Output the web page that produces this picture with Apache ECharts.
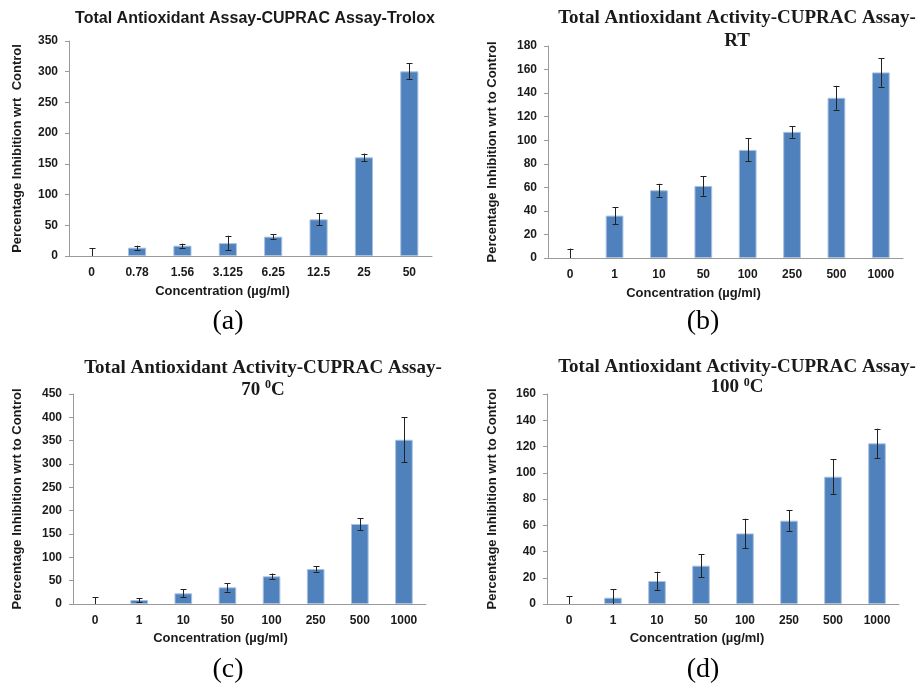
<!DOCTYPE html>
<html>
<head>
<meta charset="utf-8">
<script src="https://cdn.jsdelivr.net/npm/echarts@6/dist/echarts.min.js"></script>
<style>
html,body{margin:0;padding:0;background:#fff;}
#chart{width:921px;height:685px;}
</style>
</head>
<body>
<div id="chart"></div>
<script>
// ---- data ----
const catsA = ['0', '0.78', '1.56', '3.125', '6.25', '12.5', '25', '50'];
const valsA = [0, 13.6, 16.8, 21, 31.5, 59.7, 160.6, 300.6];
const errsA = [13, 3.3, 3.3, 12, 3.8, 10, 6.2, 13];

const catsB = ['0', '1', '10', '50', '100', '250', '500', '1000'];
const valsB = [0, 36, 57.5, 61.2, 91.8, 107.1, 136, 157.6];
const errsB = [8, 7.2, 5.5, 8.4, 9.7, 5, 10.2, 12.2];

const catsC = ['0', '1', '10', '50', '100', '250', '500', '1000'];
const valsC = [0, 8.6, 22.9, 35.7, 59.3, 75, 171.4, 352];
const errsC = [15, 4.3, 8.9, 9, 6, 5.7, 12.9, 48];

const catsD = ['0', '1', '10', '50', '100', '250', '500', '1000'];
const valsD = [0, 4.8, 17.5, 29.2, 53.8, 63.5, 97, 122.4];
const errsD = [6.1, 6.6, 7.1, 8.9, 11.2, 8, 13.3, 11.2];

const yAxisA = { min: 0, max: 350, interval: 50 };
const yAxisB = { min: 0, max: 180, interval: 20 };
const yAxisC = { min: 0, max: 450, interval: 50 };
const yAxisD = { min: 0, max: 160, interval: 20 };

const yNameA = 'Percentage Inhibition wrt  Control';
const yNameBCD = 'Percentage Inhibition wrt to Control';
const xName = 'Concentration (\u00b5g/ml)';

// ---- layout / style ----
const SANS = '"Liberation Sans", Arial, sans-serif';
const SERIF = '"Liberation Serif", "Times New Roman", serif';
const TXT = '#1a1a1a';

const panels = [
  { cats: catsA, vals: valsA, errs: errsA, y: yAxisA, yName: yNameA,
    grid: { left: 69, top: 41, width: 363, height: 215 }, yGap: 45, xGap: 29, xShift: 56 },
  { cats: catsB, vals: valsB, errs: errsB, y: yAxisB, yName: yNameBCD,
    grid: { left: 548, top: 46, width: 355, height: 212 }, yGap: 49, xGap: 29, xShift: 64 },
  { cats: catsC, vals: valsC, errs: errsC, y: yAxisC, yName: yNameBCD,
    grid: { left: 73, top: 394, width: 353, height: 210 }, yGap: 49, xGap: 28, xShift: 58 },
  { cats: catsD, vals: valsD, errs: errsD, y: yAxisD, yName: yNameBCD,
    grid: { left: 547, top: 394, width: 352, height: 210 }, yGap: 48, xGap: 28, xShift: 52 }
];

const grids = [], xAxes = [], yAxes = [], series = [];
panels.forEach((p, i) => {
  grids.push(Object.assign({ containLabel: false }, p.grid));
  xAxes.push({
    type: 'category', gridIndex: i, data: p.cats,
    name: xName, nameLocation: 'middle', nameGap: p.xGap,
    nameTextStyle: { fontFamily: SANS, fontWeight: 'bold', fontSize: 13, color: TXT, padding: [0, p.xShift, 0, 0] },
    axisLine: { lineStyle: { color: '#9a9a9a', width: 1 } },
    axisTick: { show: false },
    axisLabel: { fontFamily: SANS, fontWeight: 'bold', fontSize: 12, color: TXT, margin: 11 },
    splitLine: { show: false }
  });
  yAxes.push({
    type: 'value', gridIndex: i, min: p.y.min, max: p.y.max, interval: p.y.interval,
    name: p.yName, nameLocation: 'middle', nameGap: p.yGap,
    nameTextStyle: { fontFamily: SANS, fontWeight: 'bold', fontSize: 13, color: TXT },
    axisLine: { show: true, lineStyle: { color: '#9a9a9a', width: 1 } },
    axisTick: { show: true, length: 4, lineStyle: { color: '#9a9a9a' } },
    axisLabel: { fontFamily: SANS, fontWeight: 'bold', fontSize: 12, color: TXT, margin: 11 },
    splitLine: { show: false }
  });
  series.push({
    type: 'bar', xAxisIndex: i, yAxisIndex: i,
    data: p.vals.map(v => v === 0 ? { value: v, itemStyle: { borderWidth: 0, opacity: 0 } } : v),
    barWidth: '40%',
    itemStyle: { color: '#4f81bd', borderColor: '#a9c1e0', borderWidth: 1 },
    silent: true
  });
  series.push({
    type: 'custom', xAxisIndex: i, yAxisIndex: i,
    data: p.vals.map((v, k) => [k, v, p.errs[k]]),
    z: 5, silent: true,
    renderItem: function (params, api) {
      const k = api.value(0), v = api.value(1), e = api.value(2);
      const top = api.coord([k, v + e]);
      const bot = api.coord([k, Math.max(0, v - e)]);
      const x = Math.round(top[0]) + 0.5;
      const hw = 3;
      const st = { stroke: '#222', lineWidth: 1 };
      const children = [
        { type: 'line', shape: { x1: x, y1: top[1], x2: x, y2: bot[1] }, style: st },
        { type: 'line', shape: { x1: x - hw, y1: Math.round(top[1]) + 0.5, x2: x + hw, y2: Math.round(top[1]) + 0.5 }, style: st }
      ];
      if (v - e > 0) {
        children.push({ type: 'line', shape: { x1: x - hw, y1: Math.round(bot[1]) + 0.5, x2: x + hw, y2: Math.round(bot[1]) + 0.5 }, style: st });
      }
      return { type: 'group', children: children };
    }
  });
});

const graphics = [
  { type: 'text', x: 255, y: 19, style: { text: 'Total Antioxidant Assay-CUPRAC Assay-Trolox', fontFamily: SANS, fontWeight: 'bold', fontSize: 16, fill: TXT, align: 'center', verticalAlign: 'middle' } },
  { type: 'text', x: 737, y: 29.5, style: { text: 'Total Antioxidant Activity-CUPRAC Assay-\nRT', fontFamily: SERIF, fontWeight: 'bold', fontSize: 19, lineHeight: 23, fill: TXT, align: 'center', verticalAlign: 'middle' } },
  { type: 'text', x: 263, y: 379, style: { text: 'Total Antioxidant Activity-CUPRAC Assay-\n70 {sup|0}C', fontFamily: SERIF, fontWeight: 'bold', fontSize: 19, lineHeight: 22, fill: TXT, align: 'center', verticalAlign: 'middle',
      rich: { sup: { fontFamily: SERIF, fontWeight: 'bold', fontSize: 12, fill: TXT, verticalAlign: 'top', lineHeight: 22 } } } },
  { type: 'text', x: 737, y: 377, style: { text: 'Total Antioxidant Activity-CUPRAC Assay-\n100 {sup|0}C', fontFamily: SERIF, fontWeight: 'bold', fontSize: 19, lineHeight: 20, fill: TXT, align: 'center', verticalAlign: 'middle',
      rich: { sup: { fontFamily: SERIF, fontWeight: 'bold', fontSize: 12, fill: TXT, verticalAlign: 'top', lineHeight: 20 } } } },
  { type: 'text', x: 228, y: 322, style: { text: '(a)', fontFamily: SERIF, fontSize: 28, fill: '#000', align: 'center', verticalAlign: 'middle' } },
  { type: 'text', x: 703, y: 322, style: { text: '(b)', fontFamily: SERIF, fontSize: 28, fill: '#000', align: 'center', verticalAlign: 'middle' } },
  { type: 'text', x: 228, y: 670, style: { text: '(c)', fontFamily: SERIF, fontSize: 28, fill: '#000', align: 'center', verticalAlign: 'middle' } },
  { type: 'text', x: 703, y: 670, style: { text: '(d)', fontFamily: SERIF, fontSize: 28, fill: '#000', align: 'center', verticalAlign: 'middle' } }
];

const chart = echarts.init(document.getElementById('chart'), null, { renderer: 'canvas' });
chart.setOption({
  backgroundColor: '#ffffff',
  animation: false,
  grid: grids,
  xAxis: xAxes,
  yAxis: yAxes,
  series: series,
  graphic: graphics
});
</script>
</body>
</html>
